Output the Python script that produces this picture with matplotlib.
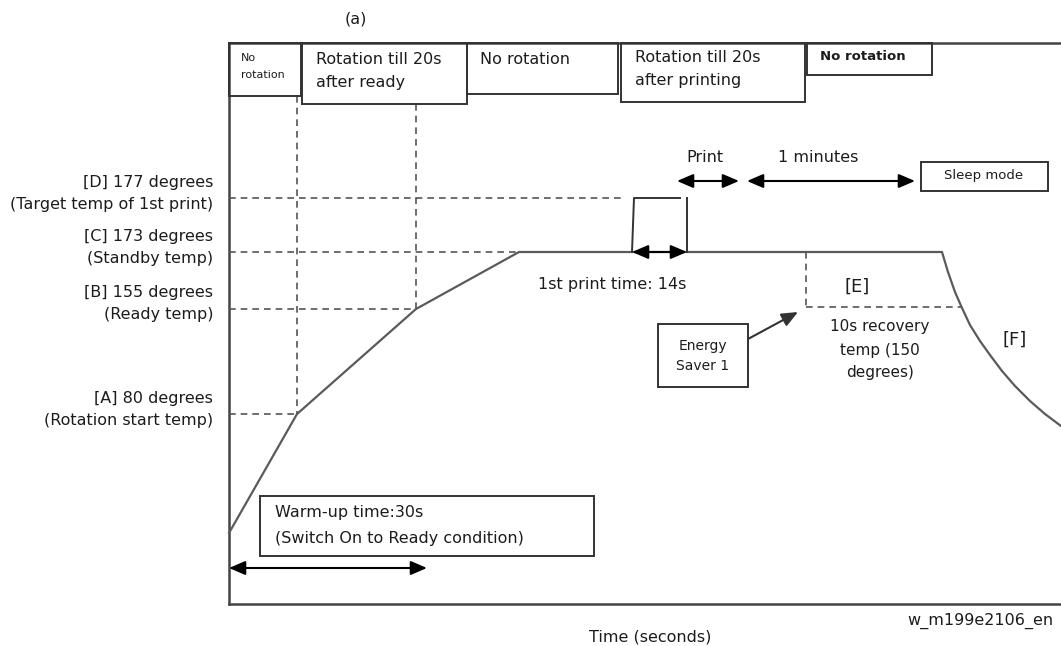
import matplotlib
matplotlib.use('Agg')
import matplotlib.pyplot as plt
from matplotlib.patches import Rectangle

plt.rcParams['font.family'] = ['DejaVu Sans']

# schematic temperature levels (diagram units, y grows downwards)
level_y     = [198, 252, 309, 414]
level_names = ['[D] 177 degrees', '[C] 173 degrees', '[B] 155 degrees', '[A] 80 degrees']
level_notes = ['(Target temp of 1st print)', '(Standby temp)', '(Ready temp)', '(Rotation start temp)']
level_end   = [622, 519, 416, 297]

# fusing temperature profile
profile_t = [229, 297, 416, 519, 942, 948, 955, 962, 970, 980, 990, 1002, 1015, 1030, 1045, 1061]
profile_y = [533, 414, 309, 252, 252, 272, 292, 308, 325, 341, 355, 371, 386, 401, 414, 426]

# print spike
spike_t = [632, 634, 680]
spike_y = [252, 198, 198]

# rotation phase boxes along the top
phase_x0 = [229, 302, 467, 621, 807]
phase_x1 = [301, 467, 618, 805, 932]
phase_y1 = [96, 104, 94, 102, 75]
phase_labels = ['No\nrotation', 'Rotation till 20s\nafter ready', 'No rotation',
                'Rotation till 20s\nafter printing', 'No rotation']

TXT = '#1c1c1c'
LINE = '#5a5a5a'

fig = plt.figure(figsize=(10.61, 6.46), dpi=100)
ax = fig.add_axes([0, 0, 1, 1])
ax.set_xlim(0, 1061)
ax.set_ylim(646, 0)
ax.axis('off')


def lines(x, y, txt, step, **kw):
    for i, s in enumerate(txt.split('\n')):
        ax.text(x, y + i * step, s, va='center', color=TXT, **kw)


def arrow(x0, x1, y):
    ax.annotate('', xy=(x1, y), xytext=(x0, y),
                arrowprops=dict(arrowstyle='<|-|>,head_length=0.7,head_width=0.3',
                                color='black', lw=1.5, shrinkA=0, shrinkB=0,
                                mutation_scale=14))


def box(x0, y0, x1, y1):
    ax.add_patch(Rectangle((x0, y0), x1 - x0, y1 - y0, fill=False,
                           edgecolor='#333333', lw=1.4, zorder=3))


# frame
ax.plot([229, 1061], [43, 43], color='#444444', lw=1.8)
ax.plot([229, 229], [43, 604], color='#444444', lw=1.8)
ax.plot([229, 1061], [604, 604], color='#444444', lw=1.8)

# guide lines
dash = dict(color='#555555', lw=1.2, ls=(0, (4, 3)))
for y, xe in zip(level_y, level_end):
    ax.plot([229, xe], [y, y], **dash)
ax.plot([297, 297], [96, 414], **dash)
ax.plot([416, 416], [104, 309], **dash)
ax.plot([806, 806], [252, 307], **dash)
ax.plot([806, 962], [307, 307], **dash)

# level labels
for y, name, note in zip(level_y, level_names, level_notes):
    ax.text(213, y - 16, name, ha='right', va='center', fontsize=11.5, color=TXT)
    ax.text(213, y + 6, note, ha='right', va='center', fontsize=11.5, color=TXT)

# profile
ax.plot(profile_t, profile_y, color=LINE, lw=1.6, solid_joinstyle='round')
ax.plot(spike_t, spike_y, color='#333333', lw=1.4)
ax.plot([687, 687], [198, 252], color='#333333', lw=1.4)

# phase boxes
for x0, x1, y1 in zip(phase_x0, phase_x1, phase_y1):
    box(x0, 43, x1, y1)
lines(241, 58, phase_labels[0], 17, fontsize=8)
lines(316, 60, phase_labels[1], 23, fontsize=11.5)
lines(480, 59, phase_labels[2], 23, fontsize=11.5)
lines(635, 58, phase_labels[3], 23, fontsize=11.5)
lines(820, 57, phase_labels[4], 23, fontsize=9.5, fontweight='bold')

ax.text(345, 19, '(a)', ha='left', va='center', fontsize=11.5, color=TXT)

# print / sleep arrows
arrow(632, 687, 252)
ax.text(612, 284, '1st print time: 14s', ha='center', va='center', fontsize=11.5, color=TXT)
arrow(677, 739, 181)
arrow(747, 915, 181)
ax.text(705, 158, 'Print', ha='center', va='center', fontsize=11.5, color=TXT)
ax.text(818, 158, '1 minutes', ha='center', va='center', fontsize=11.5, color=TXT)
box(921, 162, 1048, 191)
ax.text(984, 175, 'Sleep mode', ha='center', va='center', fontsize=9.5, color=TXT)

# energy saver
box(658, 324, 748, 387)
lines(703, 346, 'Energy\nSaver 1', 20, ha='center', fontsize=10)
ax.annotate('', xy=(798, 312), xytext=(748, 339),
            arrowprops=dict(arrowstyle='-|>,head_length=0.7,head_width=0.3',
                            color='#333333', lw=1.5, shrinkA=0, shrinkB=0,
                            mutation_scale=14))
lines(880, 327, '10s recovery\ntemp (150\ndegrees)', 23, ha='center', fontsize=11)
ax.text(857, 287, '[E]', ha='center', va='center', fontsize=13, color=TXT)
ax.text(1015, 340, '[F]', ha='center', va='center', fontsize=13, color=TXT)

# warm-up
box(260, 496, 594, 556)
lines(275, 513, 'Warm-up time:30s\n(Switch On to Ready condition)', 25, fontsize=11.5)
arrow(229, 427, 568)

ax.text(650, 637, 'Time (seconds)', ha='center', va='center', fontsize=11.5, color=TXT)
ax.text(1053, 621, 'w_m199e2106_en', ha='right', va='center', fontsize=11.5, color=TXT)

fig.savefig('out.png', dpi=100)
